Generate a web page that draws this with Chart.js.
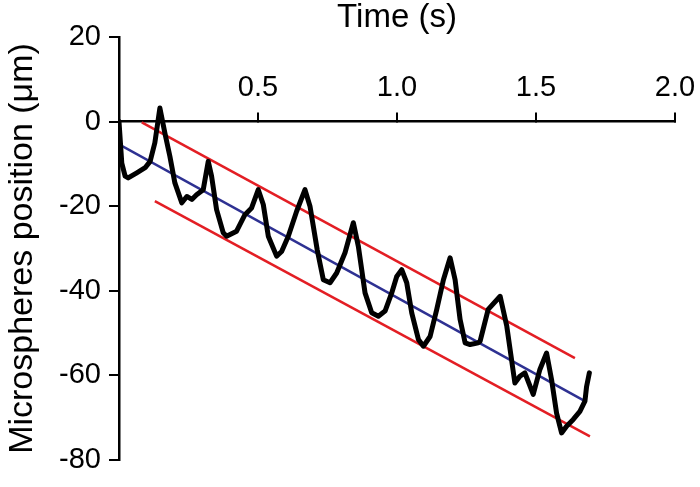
<!DOCTYPE html>
<html>
<head>
<meta charset="utf-8">
<script src="https://cdn.jsdelivr.net/npm/chart.js@4/dist/chart.umd.min.js"></script>
<style>
  body { margin: 0; background: #fff; }
  canvas { display: block; background: #fff; }
</style>
</head>
<body>
<canvas id="traceChart" width="700" height="487"></canvas>
<script>
// trace of the microsphere
const times = [0.000, 0.010, 0.022, 0.033, 0.064, 0.094, 0.112, 0.129, 0.147, 0.165,
  0.183, 0.201, 0.226, 0.244, 0.262, 0.279, 0.303, 0.321, 0.333, 0.351,
  0.375, 0.387, 0.423, 0.453, 0.477, 0.501, 0.519, 0.537, 0.567, 0.585,
  0.609, 0.639, 0.669, 0.687, 0.713, 0.735, 0.759, 0.783, 0.813, 0.843,
  0.861, 0.885, 0.909, 0.933, 0.957, 0.981, 0.999, 1.017, 1.035, 1.053,
  1.077, 1.095, 1.119, 1.143, 1.167, 1.191, 1.209, 1.227, 1.245, 1.263,
  1.292, 1.299, 1.328, 1.371, 1.395, 1.424, 1.442, 1.460, 1.490, 1.514,
  1.538, 1.556, 1.574, 1.592, 1.610, 1.634, 1.658, 1.676, 1.682, 1.692];
const positions = [0, -9.8, -12.9, -13.3, -12.1, -10.9, -9.4, -5.0, 3.2, -2.7,
  -8.2, -14.5, -19.2, -17.7, -18.4, -17.3, -16.1, -9.4, -12.9, -20.8,
  -26.3, -27.1, -25.9, -22.0, -20.4, -16.1, -19.6, -27.1, -31.8, -30.7,
  -27.1, -21.2, -16.1, -20.0, -30.3, -37.4, -38.1, -35.8, -31.0, -23.9,
  -29.5, -40.5, -45.2, -46.0, -44.8, -40.5, -36.6, -35.0, -38.1, -45.2,
  -51.5, -53.1, -50.8, -44.4, -37.4, -32.2, -37.4, -46.8, -52.3, -52.7,
  -52.3, -51.9, -44.4, -41.3, -48.4, -61.8, -60.2, -59.4, -64.5, -58.6,
  -54.7, -61.0, -68.9, -73.6, -72.0, -70.4, -68.5, -66.1, -62.6, -59.4];

// linear fit and the two bounds
const fitTimes = [0, 1.676];
const fitValues = [-5.4, -66.1];
const upperTimes = [0.082, 1.640];
const upperValues = [-0.2, -55.9];
const lowerTimes = [0.129, 1.694];
const lowerValues = [-18.8, -74.4];

const xTicks = [0, 0.5, 1.0, 1.5, 2.0];
const yTicks = [-80, -60, -40, -20, 0, 20];

const toPoints = (xs, ys) => xs.map((x, i) => ({ x: x, y: ys[i] }));

const ctx = document.getElementById('traceChart').getContext('2d');

new Chart(ctx, {
    type: 'line',
    data: {
        datasets: [
            {
                data: toPoints(times, positions),
                borderColor: '#000000',
                borderWidth: 5,
                borderJoinStyle: 'round',
                borderCapStyle: 'round',
                pointRadius: 0,
                tension: 0
            },
            {
                data: toPoints(fitTimes, fitValues),
                borderColor: '#2e3192',
                borderWidth: 2.5,
                pointRadius: 0
            },
            {
                data: toPoints(upperTimes, upperValues),
                borderColor: '#e31e24',
                borderWidth: 2.5,
                pointRadius: 0
            },
            {
                data: toPoints(lowerTimes, lowerValues),
                borderColor: '#e31e24',
                borderWidth: 2.5,
                pointRadius: 0
            }
        ]
    },
    options: {
        responsive: false,
        animation: false,
        devicePixelRatio: 1,
        layout: { padding: { left: 0, right: 25, top: 37, bottom: 27 } },
        plugins: {
            legend: { display: false },
            tooltip: { enabled: false }
        },
        scales: {
            x: {
                type: 'linear',
                position: { y: 0 },
                min: 0,
                max: 2,
                afterBuildTicks: (scale) => { scale.ticks = xTicks.map(v => ({ value: v })); },
                afterFit: (scale) => { scale.height = 0; },
                grid: {
                    drawOnChartArea: false,
                    drawTicks: true,
                    tickLength: -10,
                    color: '#000',
                    lineWidth: 2
                },
                border: { display: true, color: '#000', width: 2.5 },
                ticks: {
                    padding: -41,
                    color: '#000',
                    font: { family: 'Liberation Sans', size: 29 },
                    maxRotation: 0,
                    autoSkip: false,
                    callback: (v) => v === 0 ? '' : v.toFixed(1)
                },
                title: {
                    display: true,
                    text: 'Time (s)',
                    color: '#000',
                    font: { family: 'Liberation Sans', size: 33 },
                    padding: { top: 0, bottom: 84 }
                }
            },
            y: {
                type: 'linear',
                position: 'left',
                min: -80,
                max: 20,
                afterBuildTicks: (scale) => { scale.ticks = yTicks.map(v => ({ value: v })); },
                afterFit: (scale) => { scale.width = 119; },
                grid: {
                    drawOnChartArea: false,
                    drawTicks: true,
                    tickLength: 10,
                    color: '#000',
                    lineWidth: 2
                },
                border: { display: true, color: '#000', width: 2.5 },
                ticks: {
                    padding: 8,
                    color: '#000',
                    font: { family: 'Liberation Sans', size: 29 }
                },
                title: {
                    display: true,
                    text: 'Microspheres position (μm)',
                    color: '#000',
                    font: { family: 'Liberation Sans', size: 34 },
                    padding: { top: 2, bottom: 0 }
                }
            }
        }
    }
});
</script>
</body>
</html>
